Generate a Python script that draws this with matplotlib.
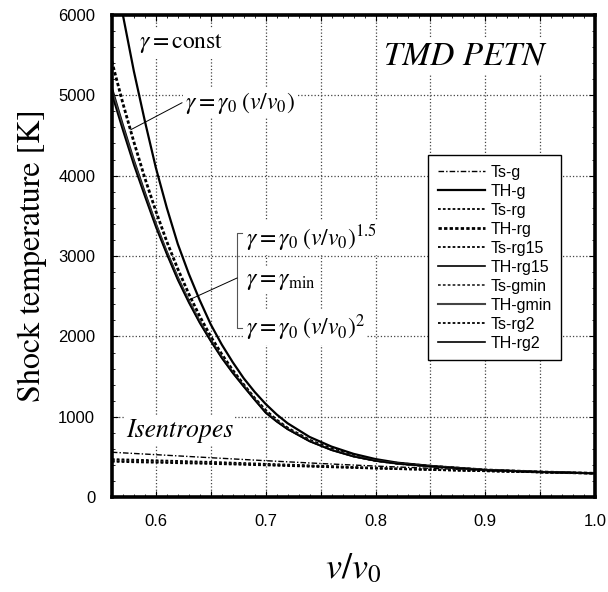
import numpy as np
import matplotlib.pyplot as plt
from matplotlib.ticker import MultipleLocator, FuncFormatter

plt.rcParams['mathtext.fontset'] = 'stix'

# Hugoniot (shock) temperatures
v_h = [0.56, 0.57, 0.58, 0.59, 0.60, 0.61, 0.62, 0.63, 0.64, 0.65, 0.66, 0.67, 0.68,
       0.69, 0.70, 0.71, 0.72, 0.74, 0.76, 0.78, 0.80, 0.82, 0.85, 0.90, 0.95, 1.00]
TH_g = [6700, 6000, 5300, 4680, 4100, 3600, 3150, 2780, 2450, 2150, 1900, 1680, 1480,
        1310, 1160, 1030, 920, 750, 630, 540, 475, 430, 390, 340, 315, 298]
TH_rg = [5420, 4900, 4420, 3970, 3560, 3180, 2840, 2530, 2250, 2000, 1780, 1580, 1400,
         1230, 1080, 960, 860, 710, 600, 515, 458, 422, 386, 340, 315, 298]
TH_rg15 = [5100, 4640, 4200, 3800, 3410, 3060, 2740, 2450, 2190, 1960, 1750, 1560, 1390,
           1220, 1060, 950, 850, 700, 590, 510, 455, 420, 385, 340, 315, 298]
TH_gmin = [5060, 4600, 4170, 3770, 3390, 3040, 2720, 2440, 2180, 1950, 1740, 1550, 1380,
           1215, 1055, 945, 848, 698, 588, 508, 454, 419, 384, 339, 315, 298]
TH_rg2 = [5010, 4560, 4130, 3740, 3360, 3020, 2700, 2420, 2165, 1940, 1730, 1545, 1375,
          1210, 1050, 940, 845, 695, 586, 507, 453, 418, 384, 339, 315, 298]

# isentropes
v_s = [0.56, 0.60, 0.65, 0.70, 0.75, 0.80, 0.85, 0.90, 0.95, 1.00]
Ts_g = [560, 530, 492, 455, 420, 388, 360, 335, 315, 298]
Ts_rg = [475, 460, 440, 416, 392, 367, 346, 328, 312, 298]
Ts_rg15 = [462, 448, 430, 408, 386, 363, 343, 326, 311, 298]
Ts_gmin = [452, 439, 422, 402, 381, 359, 341, 325, 310, 298]
Ts_rg2 = [442, 430, 415, 397, 377, 357, 340, 324, 310, 298]

fig = plt.figure(figsize=(6.08, 5.92), dpi=100)
ax = fig.add_axes([0.184, 0.160, 0.795, 0.815])

dots = (0, (1.5, 1.2))
ax.plot(v_s, Ts_g, color='black', lw=1.0, ls=(0, (4, 1.5, 1, 1.5)), label='Ts-g')
ax.plot(v_h, TH_g, color='black', lw=1.6, label='TH-g')
ax.plot(v_s, Ts_rg, color='black', lw=1.3, ls=dots, label='Ts-rg')
ax.plot(v_h, TH_rg, color='black', lw=2.0, ls=(0, (1.2, 0.8)), label='TH-rg')
ax.plot(v_s, Ts_rg15, color='black', lw=1.3, ls=dots, label='Ts-rg15')
ax.plot(v_h, TH_rg15, color='black', lw=1.2, label='TH-rg15')
ax.plot(v_s, Ts_gmin, color='#333333', lw=1.3, ls=dots, label='Ts-gmin')
ax.plot(v_h, TH_gmin, color='#444444', lw=1.5, label='TH-gmin')
ax.plot(v_s, Ts_rg2, color='black', lw=1.3, ls=dots, label='Ts-rg2')
ax.plot(v_h, TH_rg2, color='black', lw=1.2, label='TH-rg2')

ax.set_xlim(0.56, 1.0)
ax.set_ylim(0, 6000)

ax.xaxis.set_major_locator(MultipleLocator(0.05))
ax.xaxis.set_minor_locator(MultipleLocator(0.01))
ax.xaxis.set_major_formatter(FuncFormatter(
    lambda x, p: f'{x:.1f}' if abs(round(x * 10) - x * 10) < 1e-6 else ''))
ax.yaxis.set_major_locator(MultipleLocator(1000))
ax.yaxis.set_minor_locator(MultipleLocator(200))

ax.tick_params(which='both', direction='in', top=True, right=True)
ax.tick_params(which='major', length=4, width=0.8, pad=12, labelsize=12)
ax.tick_params(which='minor', length=2.5, width=0.6)
for lab in ax.get_xticklabels() + ax.get_yticklabels():
    lab.set_family('Liberation Sans')
for s in ax.spines.values():
    s.set_linewidth(2.6)

ax.grid(True, which='major', ls=':', lw=0.9, color='#444444')

ax.set_ylabel('Shock temperature [K]', family='STIXGeneral', fontsize=23, labelpad=8)
ax.set_xlabel(r'$v/v_0$', fontsize=26, labelpad=16)

box = dict(fc='white', ec='none', pad=1.5)
ax.text(0.5845, 5650, r'$\gamma{=}\mathrm{const}$', fontsize=17, va='center', bbox=box)
ax.text(0.6265, 4900, r'$\gamma{=}\gamma_0\;(v/v_0)$', fontsize=17, va='center', bbox=box)
ax.plot([0.6238, 0.5771], [4906, 4570], color='black', lw=0.7)

ax.text(0.682, 3230, r'$\gamma{=}\gamma_0\;(v/v_0)^{1.5}$', fontsize=17, va='center', bbox=box)
ax.text(0.682, 2700, r'$\gamma{=}\gamma_{\mathrm{min}}$', fontsize=17, va='center', bbox=box)
ax.text(0.682, 2110, r'$\gamma{=}\gamma_0\;(v/v_0)^{2}$', fontsize=17, va='center', bbox=box)
ax.plot([0.6786, 0.674, 0.674, 0.6786], [3288, 3288, 2105, 2105], color='#555555', lw=0.8)
ax.plot([0.674, 0.630], [2727, 2453], color='black', lw=0.7)

ax.text(0.808, 5480, 'TMD PETN', family='STIXGeneral', style='italic', fontsize=24,
        va='center', bbox=box)
ax.text(0.5726, 834, 'Isentropes', family='STIXGeneral', style='italic', fontsize=18.5,
        va='center', bbox=box)

leg = ax.legend(loc='upper left', bbox_to_anchor=(0.654, 0.709), borderaxespad=0,
                fancybox=False, framealpha=1, edgecolor='black', handlelength=3.0,
                labelspacing=0.25, borderpad=0.6, handletextpad=0.3,
                prop={'family': 'Liberation Sans', 'size': 11.5})
leg.get_frame().set_linewidth(1.0)

fig.savefig('out.png', dpi=100)
